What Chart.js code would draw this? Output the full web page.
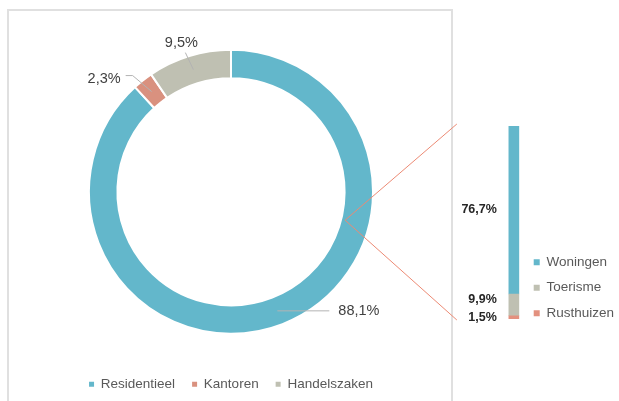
<!DOCTYPE html>
<html>
<head>
<meta charset="utf-8">
<script src="https://cdn.jsdelivr.net/npm/chart.js@4.4.0/dist/chart.umd.min.js"></script>
<style>
  html, body { margin: 0; padding: 0; background: #fff; overflow: hidden; }
  #wrap { position: relative; width: 619px; height: 401px; overflow: hidden; }
  #frame { position: absolute; left: 7px; top: 9px; width: 442px; height: 420px; border: 2px solid #e0e0e0; }
  canvas { position: absolute; left: 0; top: 0; }
</style>
</head>
<body>
<div id="wrap">
  <div id="frame"></div>
  <canvas id="donut" width="619" height="401"></canvas>
  <canvas id="bar" width="640" height="401"></canvas>
</div>
<script>
'use strict';

// verdeling per sector (donut)
const sectorLabels = ['Residentieel', 'Kantoren', 'Handelszaken'];
const sectorValues = [88.1, 2.3, 9.5];
const sectorColors = ['#63B7CB', '#D9917F', '#BFC0B2'];

// uitsplitsing van residentieel (staaf)
const residLabels = ['Woningen', 'Toerisme', 'Rusthuizen'];
const residValues = [76.7, 9.9, 1.5];
const residColors = ['#63B7CB', '#BFC0B2', '#E3917F'];

const residTotal = residValues.reduce((a, b) => a + b, 0);

Chart.defaults.font.family = '"Liberation Sans", Arial, sans-serif';
Chart.defaults.color = '#595959';

const pct = (v) => v.toFixed(1).replace('.', ',') + '%';

// labels t.o.v. het midden van de ring: verschuiving en knikpunten van de hulplijn
const donutLabelLayout = [
    { dx: 61, dy: 0, align: 'left', leader: [[52, 0]] },
    { dx: -31, dy: -13, align: 'right', leader: [[-19, -16], [-26, -16]] },
    { dx: -12, dy: -27, align: 'center', leader: [[-8, -17]] },
];

const donutLabels = {
    id: 'donutLabels',
    afterDatasetsDraw(chart) {
        const ctx = chart.ctx;
        const meta = chart.getDatasetMeta(0);
        ctx.save();
        meta.data.forEach((arc, i) => {
            const p = arc.getProps(['x', 'y', 'startAngle', 'endAngle', 'innerRadius', 'outerRadius'], true);
            const mid = (p.startAngle + p.endAngle) / 2;
            const r = (p.innerRadius + p.outerRadius) / 2;
            const ax = p.x + Math.cos(mid) * r;
            const ay = p.y + Math.sin(mid) * r;
            const lay = donutLabelLayout[i];
            ctx.strokeStyle = '#b3b3b3';
            ctx.lineWidth = 1;
            ctx.beginPath();
            ctx.moveTo(ax, ay);
            for (const [dx, dy] of lay.leader) ctx.lineTo(ax + dx, ay + dy);
            ctx.stroke();
            ctx.fillStyle = '#404040';
            ctx.font = '14.5px "Liberation Sans", Arial, sans-serif';
            ctx.textAlign = lay.align;
            ctx.textBaseline = 'middle';
            ctx.fillText(pct(sectorValues[i]), ax + lay.dx, ay + lay.dy);
        });
        ctx.restore();
    },
};

const donutChart = new Chart(document.getElementById('donut'), {
    type: 'doughnut',
    data: {
        labels: sectorLabels,
        datasets: [
            {
                data: sectorValues,
                backgroundColor: sectorColors,
                borderColor: '#fff',
                borderWidth: 2,
            },
        ],
    },
    options: {
        responsive: false,
        animation: false,
        radius: 142,
        cutout: '80%',
        layout: { padding: { left: 8, right: 165, top: 23, bottom: 0 } },
        plugins: {
            legend: {
                position: 'bottom',
                labels: {
                    boxWidth: 5,
                    boxHeight: 5,
                    padding: 17,
                    font: { size: 13.5 },
                    color: '#595959',
                    // legendeblokjes zonder witte rand
                    generateLabels(chart) {
                        const base = Chart.controllers.doughnut.overrides.plugins.legend.labels.generateLabels;
                        return base(chart).map((item) => ({ ...item, lineWidth: 0 }));
                    },
                },
            },
            tooltip: { enabled: false },
        },
    },
    plugins: [donutLabels],
});

// hoek (radialen, vanaf 3 uur) waar de verbindingslijnen de ring raken
const connectorAngle = (14 * Math.PI) / 180;

const barLabels = {
    id: 'barLabels',
    afterDatasetsDraw(chart) {
        const ctx = chart.ctx;
        ctx.save();
        ctx.font = 'bold 12.5px "Liberation Sans Narrow", "Liberation Sans", Arial, sans-serif';
        ctx.fillStyle = '#262626';
        ctx.textAlign = 'right';
        ctx.textBaseline = 'middle';
        // van onder naar boven, kleine segmenten niet laten overlappen
        let prevY = Infinity;
        chart.data.datasets.forEach((ds, i) => {
            const bar = chart.getDatasetMeta(i).data[0];
            const y = Math.min((bar.y + bar.base) / 2, prevY - 18);
            ctx.fillText(pct(ds.data[0]), bar.x - bar.width / 2 - 12, y);
            prevY = y;
        });
        ctx.restore();
    },
    afterDraw(chart) {
        // verbindingslijnen tussen donut en staaf
        const arc = donutChart.getDatasetMeta(0).data[0];
        const r = arc.innerRadius + 4;
        const px = arc.x + Math.cos(connectorAngle) * r;
        const py = arc.y + Math.sin(connectorAngle) * r;
        const top = chart.getDatasetMeta(chart.data.datasets.length - 1).data[0];
        const bottom = chart.getDatasetMeta(0).data[0];
        const ex = top.x - top.width / 2 - 52;
        const ctx = chart.ctx;
        ctx.save();
        ctx.strokeStyle = '#EC8A74';
        ctx.lineWidth = 1;
        ctx.beginPath();
        ctx.moveTo(ex, top.y - 2);
        ctx.lineTo(px, py);
        ctx.lineTo(ex, bottom.base + 1);
        ctx.stroke();
        ctx.restore();
    },
};

const barChart = new Chart(document.getElementById('bar'), {
    type: 'bar',
    data: {
        labels: [''],
        datasets: residLabels
            .map((label, i) => ({
                label,
                data: [residValues[i]],
                backgroundColor: residColors[i],
                barThickness: 10,
            }))
            .reverse(),
    },
    options: {
        responsive: false,
        animation: false,
        layout: { padding: { left: 506, right: 16, top: 126, bottom: 69 } },
        scales: {
            x: {
                stacked: true,
                grid: { display: false },
                border: { display: false },
                ticks: { display: false },
                afterFit(scale) {
                    scale.height = 13;
                },
            },
            y: { stacked: true, display: false, min: 0, max: residTotal },
        },
        plugins: {
            legend: {
                position: 'right',
                align: 'end',
                reverse: true,
                maxWidth: 120,
                labels: { boxWidth: 6, boxHeight: 6, padding: 12, font: { size: 13.5 }, color: '#595959' },
            },
            tooltip: { enabled: false },
        },
    },
    plugins: [barLabels],
});
</script>
</body>
</html>
